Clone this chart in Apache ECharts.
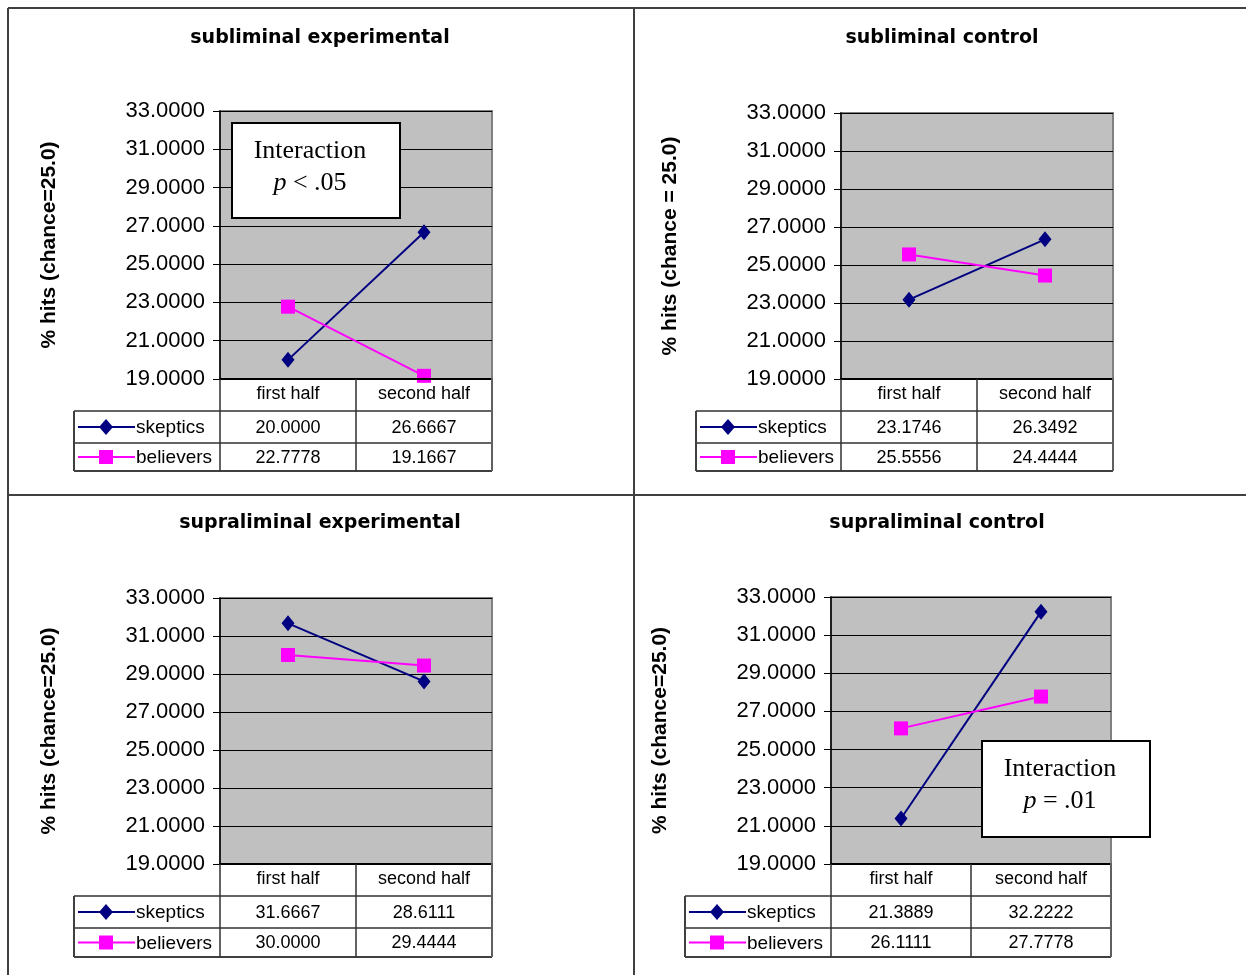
<!DOCTYPE html>
<html><head><meta charset="utf-8">
<script src="https://cdn.jsdelivr.net/npm/echarts@6/dist/echarts.min.js"></script>
<style>html,body{margin:0;padding:0;background:#fff}#c{width:1246px;height:975px}</style>
</head><body><div id="c"></div>
<script>
// ---- data ----
const categories = ['first half', 'second half'];
const seriesNames = ['skeptics', 'believers'];
const panelTitles = ['subliminal experimental', 'subliminal control', 'supraliminal experimental', 'supraliminal control'];
const yAxisTitles = ['% hits (chance=25.0)', '% hits (chance = 25.0)', '% hits (chance=25.0)', '% hits (chance=25.0)'];
const skepticsSubExp = [20.0000, 26.6667];
const believersSubExp = [22.7778, 19.1667];
const skepticsSubCtl = [23.1746, 26.3492];
const believersSubCtl = [25.5556, 24.4444];
const skepticsSupExp = [31.6667, 28.6111];
const believersSupExp = [30.0000, 29.4444];
const skepticsSupCtl = [21.3889, 32.2222];
const believersSupCtl = [26.1111, 27.7778];
const yTickMin = 19, yTickMax = 33, yTickStep = 2;
const annotationSubExp = ['Interaction', 'p', ' < .05'];
const annotationSupCtl = ['Interaction', 'p', ' = .01'];

const panelData = [
  [skepticsSubExp, believersSubExp],
  [skepticsSubCtl, believersSubCtl],
  [skepticsSupExp, believersSupExp],
  [skepticsSupCtl, believersSupCtl]
];
const panelNotes = [annotationSubExp, null, null, annotationSupCtl];

// ---- layout / style ----
const layout = [
  {L: 220, T: 111, W: 272, H: 268, leg: 74,  rows: [32, 64, 92], title: [320, 38],  box: [232, 123, 168, 95]},
  {L: 841, T: 113, W: 272, H: 266, leg: 696, rows: [32, 64, 92], title: [942, 38],  box: null},
  {L: 220, T: 598, W: 272, H: 266, leg: 74,  rows: [32, 64, 93], title: [320, 523], box: null},
  {L: 831, T: 597, W: 280, H: 267, leg: 685, rows: [32, 64, 93], title: [937, 523], box: [982, 741, 168, 96]}
];
const colors = ['#000080', '#FF00FF'];
const SANS = '"Liberation Sans", Arial, sans-serif';
const SERIF = '"Liberation Serif", "Times New Roman", serif';
const LINE = '#303030';

const grids = [], xAxes = [], yAxes = [], series = [], graphics = [];

// panel frame lines
[[8, 8, 1246, 8], [8, 8, 8, 975], [634, 8, 634, 975], [8, 495, 1246, 495]].forEach(p => {
  graphics.push({type: 'line', shape: {x1: p[0], y1: p[1], x2: p[2], y2: p[3]}, style: {stroke: '#404040', lineWidth: 2}, z: 50});
});

layout.forEach((g, i) => {
  grids.push({left: g.L, top: g.T, width: g.W, height: g.H, show: true,
    backgroundColor: '#C0C0C0', borderColor: '#808080', borderWidth: 2, containLabel: false});
  xAxes.push({type: 'category', gridIndex: i, data: categories, boundaryGap: true,
    axisLine: {show: true, lineStyle: {color: '#000', width: 2}},
    axisTick: {show: false},
    axisLabel: {color: '#000', fontFamily: SANS, fontSize: 18, margin: 6},
    splitLine: {show: false}, z: 5});
  yAxes.push({type: 'value', gridIndex: i, min: yTickMin, max: yTickMax, interval: yTickStep,
    name: yAxisTitles[i], nameLocation: 'middle', nameRotate: 90, nameGap: 160,
    nameTextStyle: {color: '#000', fontFamily: SANS, fontSize: 21, fontWeight: 'bold'},
    axisLine: {show: true, lineStyle: {color: '#000', width: 1.5}},
    axisTick: {show: true, length: 7, lineStyle: {color: '#000', width: 1}},
    axisLabel: {color: '#000', fontFamily: SANS, fontSize: 22, margin: 15, formatter: v => v.toFixed(4)},
    splitLine: {show: true, lineStyle: {color: '#000', width: 1}}});

  panelData[i].forEach((vals, s) => {
    series.push({type: 'line', name: seriesNames[s], xAxisIndex: i, yAxisIndex: i, data: vals,
      symbol: s === 0 ? 'diamond' : 'rect', symbolSize: s === 0 ? [13, 16] : 14,
      itemStyle: {color: colors[s]}, lineStyle: {color: colors[s], width: 2},
      animation: false, z: 3});
  });

  // title
  graphics.push({type: 'text', x: g.title[0], y: g.title[1], style: {text: panelTitles[i], fill: '#000',
    font: 'bold 19px "DejaVu Sans", sans-serif', align: 'center', verticalAlign: 'middle'}});

  // data table
  const B = g.T + g.H, R = g.L + g.W, M = g.L + g.W / 2;
  const r1 = B + g.rows[0], r2 = B + g.rows[1], r3 = B + g.rows[2];
  const hl = (x1, y1, x2, y2, c, w) => graphics.push({type: 'line', shape: {x1, y1, x2, y2}, style: {stroke: c || LINE, lineWidth: w || 1.5}, z: 10});
  hl(g.leg, r1, R, r1);
  hl(g.leg, r2, R, r2);
  hl(g.leg, r3, R, r3, '#404040', 2);
  hl(g.leg, r1, g.leg, r3, '#404040', 2);
  hl(g.L, B, g.L, r3);
  hl(M, B, M, r3);
  hl(R, B - 1, R, r3, '#606060', 2);
  const rowMid = [(r1 + r2) / 2, (r2 + r3) / 2];
  const colMid = [g.L + g.W / 4, g.L + 3 * g.W / 4];
  panelData[i].forEach((vals, s) => {
    const y = rowMid[s] + 1;
    vals.forEach((v, c) => {
      graphics.push({type: 'text', x: colMid[c], y: y, style: {text: v.toFixed(4), fill: '#000',
        font: '18px ' + SANS, align: 'center', verticalAlign: 'middle'}, z: 10});
    });
    const lx = g.leg + 4;
    graphics.push({type: 'line', shape: {x1: lx, y1: rowMid[s], x2: lx + 57, y2: rowMid[s]}, style: {stroke: colors[s], lineWidth: 2}, z: 10});
    const mx = lx + 28;
    if (s === 0) {
      graphics.push({type: 'polygon', shape: {points: [[mx, rowMid[s] - 8], [mx + 7, rowMid[s]], [mx, rowMid[s] + 8], [mx - 7, rowMid[s]]]}, style: {fill: colors[s]}, z: 11});
    } else {
      graphics.push({type: 'rect', shape: {x: mx - 7, y: rowMid[s] - 7, width: 14, height: 14}, style: {fill: colors[s]}, z: 11});
    }
    graphics.push({type: 'text', x: lx + 58, y: y, style: {text: seriesNames[s], fill: '#000',
      font: '19px ' + SANS, align: 'left', verticalAlign: 'middle'}, z: 10});
  });

  // annotation box
  const note = panelNotes[i];
  if (note && g.box) {
    const [bx, by, bw, bh] = g.box;
    graphics.push({type: 'rect', shape: {x: bx, y: by, width: bw, height: bh}, style: {fill: '#fff', stroke: '#000', lineWidth: 2}, z: 60});
    graphics.push({type: 'text', x: bx + bw / 2 - 6, y: by + 28, style: {text: note[0], fill: '#000',
      font: '26px ' + SERIF, align: 'center', verticalAlign: 'middle'}, z: 61});
    graphics.push({type: 'text', x: bx + bw / 2 - 6, y: by + 60, style: {
      text: '{i|' + note[1] + '}{n|' + note[2] + '}', align: 'center', verticalAlign: 'middle',
      rich: {i: {font: 'italic 26px ' + SERIF, fill: '#000'}, n: {font: '26px ' + SERIF, fill: '#000'}}}, z: 61});
  }
});

const chart = echarts.init(document.getElementById('c'), null, {renderer: 'canvas'});
chart.setOption({
  animation: false,
  backgroundColor: '#fff',
  grid: grids, xAxis: xAxes, yAxis: yAxes, series: series,
  graphic: {elements: graphics}
});
</script></body></html>
